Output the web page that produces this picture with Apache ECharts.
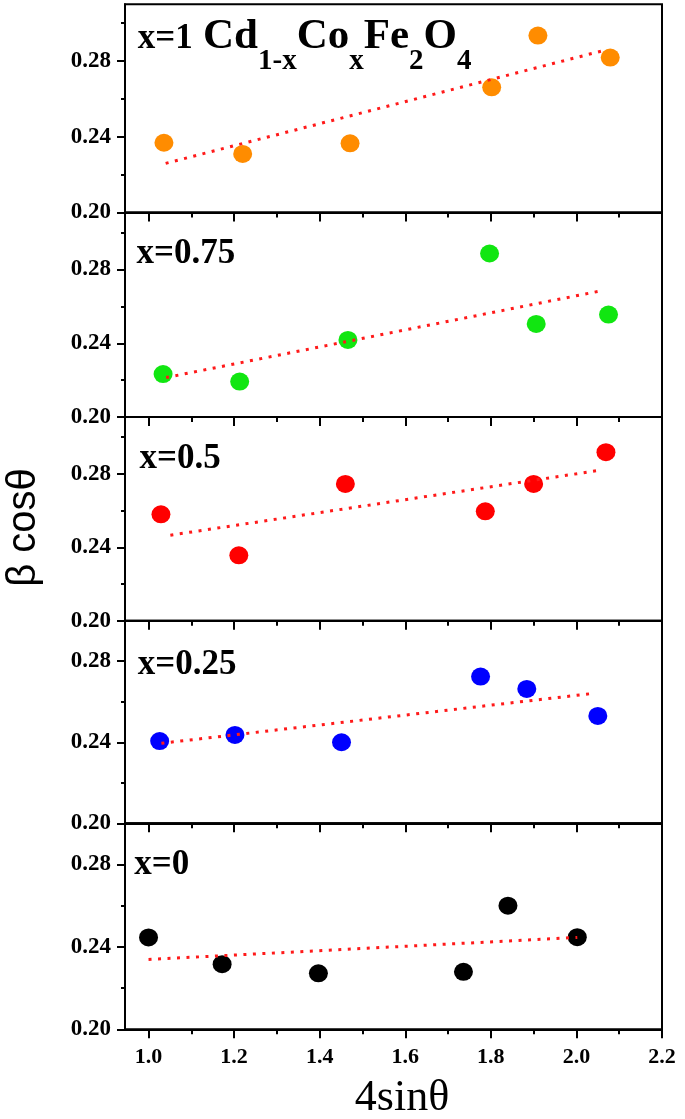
<!DOCTYPE html>
<html><head><meta charset="utf-8">
<script src="https://cdn.jsdelivr.net/npm/echarts@6/dist/echarts.min.js"></script>
<style>html,body{margin:0;padding:0;background:#fff}#c{width:685px;height:1119px}</style>
</head><body><div id="c"></div><script>
// ---- data ----
const xTicksMajor = [1.0, 1.2, 1.4, 1.6, 1.8, 2.0, 2.2];
const xTicksMinor = [1.1, 1.3, 1.5, 1.7, 1.9, 2.1];
const yTicksMajor = [0.20, 0.24, 0.28];
const yTicksMinor = [0.22, 0.26, 0.30];
const yMax = [0.31, 0.311, 0.311, 0.30, 0.30];

const x1 = [1.036, 1.220, 1.471, 1.802, 1.910, 2.079];
const y1 = [0.2368, 0.2309, 0.2365, 0.2661, 0.2934, 0.2818];
const x2 = [1.034, 1.213, 1.466, 1.797, 1.906, 2.075];
const y2 = [0.2233, 0.2192, 0.2418, 0.2887, 0.2505, 0.2556];
const x3 = [1.029, 1.211, 1.460, 1.787, 1.900, 2.069];
const y3 = [0.2580, 0.2356, 0.2745, 0.2596, 0.2745, 0.2918];
const x4 = [1.026, 1.202, 1.451, 1.776, 1.884, 2.050];
const y4 = [0.2406, 0.2436, 0.2400, 0.2724, 0.2663, 0.2530];
const x5 = [1.000, 1.172, 1.397, 1.736, 1.840, 2.002];
const y5 = [0.2446, 0.2316, 0.2272, 0.2279, 0.2600, 0.2447];

const fitX1 = [1.040, 2.068], fitY1 = [0.2259, 0.2858];
const fitX2 = [1.041, 2.063], fitY2 = [0.2214, 0.2687];
const fitX3 = [1.051, 2.058], fitY3 = [0.2466, 0.2821];
const fitX4 = [1.030, 2.030], fitY4 = [0.2395, 0.2639];
const fitX5 = [1.000, 2.002], fitY5 = [0.2339, 0.2446];

const panelLabels = ['x=1', 'x=0.75', 'x=0.5', 'x=0.25', 'x=0'];
const formula = ['Cd', '1-x', 'Co', 'x', 'Fe', '2', 'O', '4'];
const xTitle = '4sin\u03b8';
const yTitle = '\u03b2 cos\u03b8';

// ---- layout / style ----
const XS = [x1, x2, x3, x4, x5], YS = [y1, y2, y3, y4, y5];
const FX = [fitX1, fitX2, fitX3, fitX4, fitX5], FY = [fitY1, fitY2, fitY3, fitY4, fitY5];
const colors = ['#FF8C00', '#11E611', '#FF0000', '#0000FF', '#000000'];
const tops = [4.2, 212.4, 417.0, 620.7, 823.3];
const heights = [208.2, 204.6, 203.7, 202.6, 206.0];
const labelPos = [[137.8, 38.5], [136.5, 253.5], [139.5, 458.5], [137.8, 665], [134.3, 865]];
const serif = '"Liberation Serif", "Times New Roman", serif';

const grid = [], xAxis = [], yAxis = [], series = [];
for (let i = 0; i < 5; i++) {
  grid.push({left: 125, right: 23, top: tops[i], height: heights[i], show: true,
    borderColor: '#000', borderWidth: 2, backgroundColor: 'transparent'});
  xAxis.push({type: 'value', gridIndex: i, min: 0.945, max: 2.2, position: 'bottom',
    axisLine: {show: true, onZero: false, lineStyle: {color: '#000', width: 2}},
    axisTick: {show: true, inside: false, length: 9, customValues: xTicksMajor, lineStyle: {color: '#000', width: 2}},
    axisLabel: {show: i === 4, customValues: xTicksMajor, formatter: v => v.toFixed(1),
      fontFamily: serif, fontWeight: 'bold', fontSize: 22, color: '#000', margin: 17},
    splitLine: {show: false}});
  xAxis.push({type: 'value', gridIndex: i, min: 0.945, max: 2.2, position: 'bottom',
    axisLine: {show: false, onZero: false},
    axisTick: {show: true, inside: false, length: 5, customValues: xTicksMinor, lineStyle: {color: '#000', width: 2}},
    axisLabel: {show: false}, splitLine: {show: false}});
  yAxis.push({type: 'value', gridIndex: i, min: 0.2, max: yMax[i], position: 'left',
    axisLine: {show: true, onZero: false, lineStyle: {color: '#000', width: 2}},
    axisTick: {show: true, inside: false, length: 8, customValues: yTicksMajor, lineStyle: {color: '#000', width: 2}},
    axisLabel: {show: true, customValues: yTicksMajor, formatter: v => v.toFixed(2),
      fontFamily: serif, fontWeight: 'bold', fontSize: 23, color: '#000', margin: 14},
    splitLine: {show: false}});
  yAxis.push({type: 'value', gridIndex: i, min: 0.2, max: yMax[i], position: 'left',
    axisLine: {show: false, onZero: false},
    axisTick: {show: true, inside: false, length: 4, customValues: yTicksMinor, lineStyle: {color: '#000', width: 2}},
    axisLabel: {show: false}, splitLine: {show: false}});
  series.push({type: 'scatter', xAxisIndex: 2 * i, yAxisIndex: 2 * i,
    data: XS[i].map((v, k) => [v, YS[i][k]]), symbol: 'circle', symbolSize: [19, 18],
    itemStyle: {color: colors[i], opacity: 1}, z: 2});
  series.push({type: 'line', xAxisIndex: 2 * i, yAxisIndex: 2 * i,
    data: FX[i].map((v, k) => [v, FY[i][k]]), symbol: 'none', showSymbol: false,
    lineStyle: {color: '#FF1A1A', width: 3, type: [3, 6.5]}, z: 4});
}

const graphic = [
  {type: 'text', x: 402, y: 1098, style: {text: xTitle, font: '44px ' + serif,
    fill: '#000', textAlign: 'center', textVerticalAlign: 'middle'}},
  {type: 'text', x: 24, y: 527.5, rotation: Math.PI / 2, style: {text: yTitle,
    font: '40px "Liberation Sans", Arial, sans-serif', fill: '#000', textAlign: 'center', textVerticalAlign: 'middle'}},
  {type: 'text', x: 203, y: 15, style: {
    text: '{M|' + formula[0] + '}{S|' + formula[1] + '}{M|' + formula[2] + '}{S|' + formula[3] +
      '}{M|' + formula[4] + '}{S|' + formula[5] + '}{M|' + formula[6] + '}{S|' + formula[7] + '}',
    textAlign: 'left', textVerticalAlign: 'top',
    rich: {
      M: {fontFamily: serif, fontWeight: 'bold', fontSize: 43, lineHeight: 43, verticalAlign: 'top', fill: '#000'},
      S: {fontFamily: serif, fontWeight: 'bold', fontSize: 29, lineHeight: 61, verticalAlign: 'bottom', fill: '#000'}
    }}}
];
for (let i = 0; i < 5; i++) {
  graphic.push({type: 'text', x: labelPos[i][0], y: labelPos[i][1], style: {text: panelLabels[i],
    font: 'bold 35px ' + serif, fill: '#000', textAlign: 'left', textVerticalAlign: 'middle'}});
}

const chart = echarts.init(document.getElementById('c'), null, {renderer: 'canvas'});
chart.setOption({animation: false, backgroundColor: '#fff', grid, xAxis, yAxis, series, graphic});
</script></body></html>
